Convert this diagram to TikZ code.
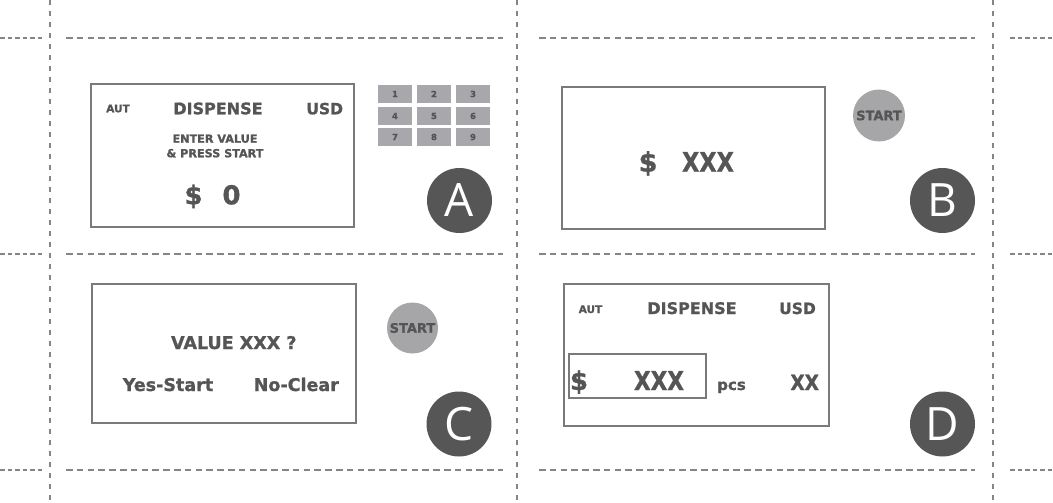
\documentclass[tikz,border=0pt]{standalone}
\usepackage{fontspec}
\setmainfont{DejaVu Sans}[BoldFeatures={FakeBold=1.2}]
\newfontfamily\letterfont{Open Sans}
\definecolor{txt}{HTML}{555555}
\definecolor{boxgray}{HTML}{7A7A7A}
\definecolor{dashgray}{HTML}{858585}
\definecolor{keyfill}{HTML}{A8A8AC}
\definecolor{startfill}{HTML}{A6A6A8}
\definecolor{letterfill}{HTML}{565656}
\tikzset{
  panel/.style={draw=boxgray, line width=1.4pt, inner sep=0pt},
  lbl/.style={text=txt, font=\bfseries\fontsize{#1}{#1}\selectfont, anchor=base, inner sep=0pt},
  keycell/.style={fill=keyfill, minimum width=34pt, minimum height=18pt, inner sep=0pt,
    text=txt, font=\bfseries\fontsize{8.5}{8.5}\selectfont},
  startbtn/.style={circle, fill=startfill, minimum size=#1, inner sep=0pt,
    text=txt, font=\bfseries\fontsize{13}{13}\selectfont},
  lettercircle/.style={circle, fill=letterfill, minimum size=65pt, inner sep=0pt,
    text=white, font=\letterfont\fontsize{46}{46}\selectfont},
  vdash/.style={draw=dashgray, line width=1.2pt, dash pattern=on 5pt off 6pt},
  hdash/.style={draw=dashgray, line width=1.2pt, dash pattern=on 6.5pt off 4.3pt},
  hstub/.style={draw=dashgray, line width=1.2pt, dash pattern=on 4.8pt off 2.7pt},
}
\begin{document}
\begin{tikzpicture}[x=1pt,y=-1pt]
\useasboundingbox (0,0) rectangle (1053,503);
% grid of dashed cut lines
\foreach \x in {50,517,993} \draw[vdash] (\x,0) -- (\x,503);
\foreach \y in {38,254,470} {
  \draw[hstub] (0,\y) -- (42,\y);
  \draw[hdash] (66,\y) -- (503,\y);
  \draw[hdash] (539,\y) -- (975,\y);
  \draw[hstub] (1010,\y) -- (1053,\y);
}
% ---------- Panel A ----------
\node[panel, minimum width=263pt, minimum height=143pt] (pA) at (222.5,155.5) {};
\node[lbl=10.5] (aAut) at (118,112.3) {AUT};
\node[lbl=16] (aDisp) at (218,114.3) {DISPENSE};
\node[lbl=15.5] (aUsd) at (324.7,114.3) {USD};
\node[lbl=11.2] (aEnter) at (215,142.7) {ENTER VALUE};
\node[lbl=11.2] (aPress) at (215,157.3) {\& PRESS START};
\node[lbl=26] (aDollar) at (193.5,204.3) {\$};
\node[lbl=26] (aZero) at (231.5,204.3) {0};
% keypad
\node[keycell] (k1) at (395,94) {1};
\node[keycell] (k2) at (434,94) {2};
\node[keycell] (k3) at (473,94) {3};
\node[keycell] (k4) at (395,116) {4};
\node[keycell] (k5) at (434,116) {5};
\node[keycell] (k6) at (473,116) {6};
\node[keycell] (k7) at (395,137) {7};
\node[keycell] (k8) at (434,137) {8};
\node[keycell] (k9) at (473,137) {9};
\node[lettercircle] (cA) at (459.5,200.5) {A};
% ---------- Panel B ----------
\node[panel, minimum width=263pt, minimum height=142pt] (pB) at (693.5,158) {};
\node[lbl=27] (bDollar) at (648,171.7) {\$};
\node[lbl=27] (bX) at (708,171.7) {\scalebox{0.83}[1]{XXX}};
\node[startbtn=52pt] (sB) at (879,115.5) {START};
\node[lettercircle] (cB) at (942.5,200.5) {B};
% ---------- Panel C ----------
\node[panel, minimum width=264pt, minimum height=139pt] (pC) at (224,353.5) {};
\node[lbl=17.5] (cVal) at (233.8,349) {VALUE XXX ?};
\node[lbl=17.5] (cYes) at (168,391) {Yes-Start};
\node[lbl=17.5] (cNo) at (296.3,391) {No-Clear};
\node[startbtn=51pt] (sC) at (412.5,328) {START};
\node[lettercircle] (cC) at (459,424) {C};
% ---------- Panel D ----------
\node[panel, minimum width=265pt, minimum height=142pt] (pD) at (696.5,355) {};
\node[panel, minimum width=137pt, minimum height=44pt] (dBox) at (637.5,376) {};
\node[lbl=10.5] (dAut) at (590.5,313) {AUT};
\node[lbl=16] (dDisp) at (692,314) {DISPENSE};
\node[lbl=15.5] (dUsd) at (797.5,314) {USD};
\node[lbl=26] (dDollar) at (579,390) {\$};
\node[lbl=26] (dX) at (659,390) {\scalebox{0.83}[1]{XXX}};
\node[lbl=15] (dPcs) at (731.5,390) {pcs};
\node[lbl=21] (dXX) at (804.7,390) {\scalebox{0.88}[1]{XX}};
\node[lettercircle] (cD) at (942.5,424) {D};
\end{tikzpicture}
\end{document}
